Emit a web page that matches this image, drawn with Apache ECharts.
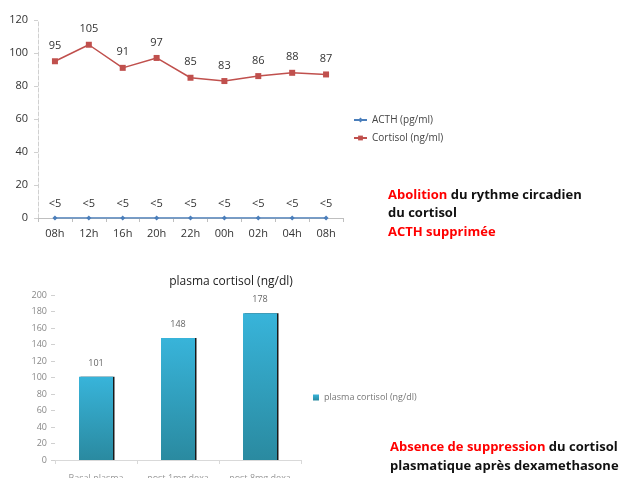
<!DOCTYPE html>
<html><head><meta charset="utf-8">
<script src="https://cdn.jsdelivr.net/npm/echarts@6/dist/echarts.min.js"></script>
<style>html,body{margin:0;padding:0;background:#fff}#c{width:622px;height:478px}</style>
</head><body><div id="c"></div>
<script>
var hours = ['08h','12h','16h','20h','22h','00h','02h','04h','08h'];
var acth = [0,0,0,0,0,0,0,0,0];
var acthLabels = ['<5','<5','<5','<5','<5','<5','<5','<5','<5'];
var cortisol = [95,105,91,97,85,83,86,88,87];
var groups = ['Basal plasma','post 1mg dexa','post 8mg dexa'];
var plasma = [101,148,178];

var chart = echarts.init(document.getElementById('c'));
var F = '"Open Sans", "Noto Sans", sans-serif';
chart.setOption({
  animation:false,
  textStyle:{fontFamily:F},
  title:{text:'plasma cortisol (ng/dl)', left:226, top:271, textAlign:'center',
    textStyle:{fontSize:12, fontWeight:'normal', color:'#222', fontFamily:F}},
  legend:[{
    data:['ACTH (pg/ml)','Cortisol (ng/ml)'], orient:'vertical', left:348, top:110,
    itemGap:8, itemWidth:13, itemHeight:6,
    textStyle:{fontSize:10, color:'#444', fontFamily:F}
  },{
    data:['plasma cortisol (ng/dl)'], left:308, top:388, itemWidth:6, itemHeight:6,
    icon:'rect', textStyle:{fontSize:9, color:'#777', fontFamily:F}
  }],
  grid:[
    {left:38, top:20, width:305, height:198, outerBoundsMode:'none'},
    {left:55, top:295, width:246, height:165, outerBoundsMode:'none'}
  ],
  xAxis:[{
    gridIndex:0, type:'category', data:hours, boundaryGap:true,
    axisLine:{lineStyle:{color:'#BFBFBF'}}, axisTick:{show:true, interval:0, length:4, lineStyle:{color:'#BFBFBF'}},
    axisLabel:{fontSize:11, color:'#333', margin:10, interval:0}
  },{
    gridIndex:1, type:'category', data:groups, boundaryGap:true,
    axisLine:{lineStyle:{color:'#D9D9D9'}}, axisTick:{show:true, length:4, lineStyle:{color:'#D9D9D9'}},
    axisLabel:{fontSize:9, color:'#999', margin:14, interval:0}
  }],
  yAxis:[{
    gridIndex:0, type:'value', min:0, max:120, interval:20,
    axisLine:{show:true, lineStyle:{color:'#D0D0D0', type:'dashed'}},
    axisTick:{show:true, length:4, lineStyle:{color:'#D0D0D0'}},
    splitLine:{show:false},
    axisLabel:{fontSize:11, color:'#333', margin:10}
  },{
    gridIndex:1, type:'value', min:0, max:200, interval:20,
    axisLine:{show:false},
    axisTick:{show:true, length:4, lineStyle:{color:'#D0D0D0'}},
    splitLine:{show:false},
    axisLabel:{fontSize:9, color:'#888', margin:8}
  }],
  series:[{
    name:'ACTH (pg/ml)', type:'line', xAxisIndex:0, yAxisIndex:0, data:acth,
    color:'#4A7EBB', symbol:'diamond', symbolSize:5, lineStyle:{width:1.5},
    label:{show:true, position:'top', distance:6, fontSize:11, color:'#333',
      formatter:function(p){return acthLabels[p.dataIndex];}}
  },{
    name:'Cortisol (ng/ml)', type:'line', xAxisIndex:0, yAxisIndex:0, data:cortisol,
    color:'#C0504D', symbol:'rect', symbolSize:6, lineStyle:{width:1.5},
    label:{show:true, position:'top', distance:7, fontSize:11, color:'#333'}
  },{
    name:'plasma cortisol (ng/dl)', type:'bar', xAxisIndex:1, yAxisIndex:1, data:plasma,
    barWidth:34, color:'#35B0D6',
    itemStyle:{
      color:new echarts.graphic.LinearGradient(0,0,0,1,[{offset:0,color:'#38B4DA'},{offset:1,color:'#2A8AA0'}]),
      shadowColor:'rgba(0,0,0,0.9)', shadowOffsetX:1.5, shadowBlur:0
    },
    label:{show:true, position:'top', distance:9, fontSize:9, color:'#666'}
  }],
  graphic:[
    {type:'text', left:388, top:189, style:{rich:{r:{fill:'#FF0000',font:'bold 13px '+F},k:{fill:'#111',font:'bold 13px '+F}}, text:'{r|Abolition}{k| du rythme circadien}'}},
    {type:'text', left:388, top:207, style:{text:'du cortisol', fill:'#111', font:'bold 13px '+F}},
    {type:'text', left:388, top:226, style:{text:'ACTH supprimée', fill:'#FF0000', font:'bold 13px '+F}},
    {type:'text', left:390, top:441, style:{rich:{r:{fill:'#FF0000',font:'bold 13px '+F},k:{fill:'#111',font:'bold 13px '+F}}, text:'{r|Absence de suppression}{k| du cortisol}'}},
    {type:'text', left:390, top:460, style:{text:'plasmatique après dexamethasone', fill:'#111', font:'bold 13px '+F}}
  ]
});
</script></body></html>
